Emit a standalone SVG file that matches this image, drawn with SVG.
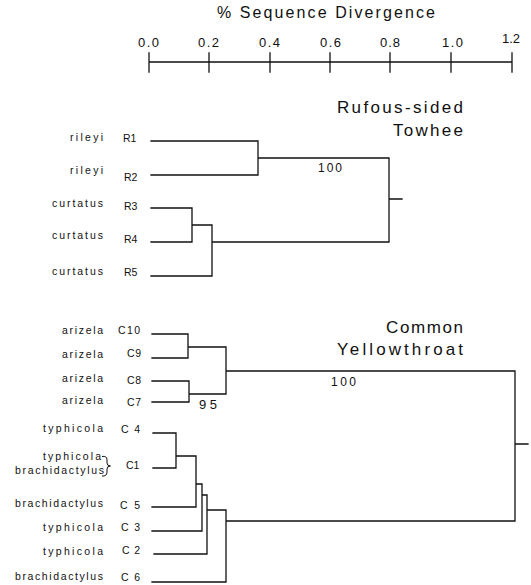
<svg xmlns="http://www.w3.org/2000/svg" width="531" height="585" viewBox="0 0 531 585">
<style>
text{font-family:"Liberation Sans",Arial,sans-serif;fill:#111}
.lab{font-size:10.5px}
.nm{font-size:10.5px;text-anchor:end}
.ttl{font-size:17px}
.num{font-size:13px}
.bs{font-size:12px}
.ln{fill:none;stroke:#111;stroke-width:1.3;stroke-linecap:square}
</style>
<rect width="531" height="585" fill="#fff"/>
<g id="axis">
<text class="ttl" x="217" y="18" textLength="218" lengthAdjust="spacing" style="font-size:16px">% Sequence Divergence</text>
<text class="num" x="138" y="47" textLength="21" lengthAdjust="spacing">0.0</text>
<text class="num" x="198" y="47" textLength="21" lengthAdjust="spacing">0.2</text>
<text class="num" x="259" y="47" textLength="21" lengthAdjust="spacing">0.4</text>
<text class="num" x="320" y="47" textLength="21" lengthAdjust="spacing">0.6</text>
<text class="num" x="380" y="47" textLength="20" lengthAdjust="spacing">0.8</text>
<text class="num" x="442" y="47" textLength="21" lengthAdjust="spacing">1.0</text>
<text class="num" x="502" y="43" textLength="18" lengthAdjust="spacing">1.2</text>
<path class="ln" d="M149,62 H512 M149,53 V72 M209,53 V72 M270,53 V72 M330,53 V72 M390,53 V72 M451,53 V72 M512,53 V72"/>
</g>
<g id="title-towhee">
<text class="ttl" x="337" y="113" textLength="126" lengthAdjust="spacing">Rufous-sided</text>
<text class="ttl" x="393" y="136" textLength="70" lengthAdjust="spacing">Towhee</text>
</g>
<g id="title-yellowthroat">
<text class="ttl" x="386" y="333" textLength="77" lengthAdjust="spacing">Common</text>
<text class="ttl" x="337" y="355" textLength="126" lengthAdjust="spacing">Yellowthroat</text>
</g>
<g id="R1"><text class="nm" x="103" y="141" textLength="33" lengthAdjust="spacing">rileyi</text><text class="lab" x="123" y="142">R1</text></g>
<g id="R2"><text class="nm" x="103" y="174" textLength="33" lengthAdjust="spacing">rileyi</text><text class="lab" x="124" y="181">R2</text></g>
<g id="R3"><text class="nm" x="103" y="207" textLength="51" lengthAdjust="spacing">curtatus</text><text class="lab" x="124" y="210">R3</text></g>
<g id="R4"><text class="nm" x="103" y="239" textLength="51" lengthAdjust="spacing">curtatus</text><text class="lab" x="124" y="243">R4</text></g>
<g id="R5"><text class="nm" x="103" y="275" textLength="51" lengthAdjust="spacing">curtatus</text><text class="lab" x="124" y="276">R5</text></g>
<g id="C10"><text class="nm" x="103" y="334" textLength="41" lengthAdjust="spacing">arizela</text><text class="lab" x="118" y="334" textLength="22" lengthAdjust="spacing">C10</text></g>
<g id="C9"><text class="nm" x="103" y="358" textLength="41" lengthAdjust="spacing">arizela</text><text class="lab" x="127" y="357" textLength="14" lengthAdjust="spacing">C9</text></g>
<g id="C8"><text class="nm" x="103" y="382" textLength="41" lengthAdjust="spacing">arizela</text><text class="lab" x="127" y="384" textLength="14" lengthAdjust="spacing">C8</text></g>
<g id="C7"><text class="nm" x="103" y="404" textLength="41" lengthAdjust="spacing">arizela</text><text class="lab" x="127" y="406" textLength="14" lengthAdjust="spacing">C7</text></g>
<g id="C4"><text class="nm" x="103" y="432" textLength="60" lengthAdjust="spacing">typhicola</text><text class="lab" x="121" y="433" textLength="19" lengthAdjust="spacing">C4</text></g>
<g id="C1"><text class="nm" x="101" y="460" textLength="58" lengthAdjust="spacing">typhicola</text><text class="nm" x="104" y="474" textLength="89" lengthAdjust="spacing">brachidactylus</text>
<path class="ln" style="stroke-width:1;stroke-linecap:butt" d="M102,456.5 Q107,455.5 107,460 V463 Q107,466 110.5,466 Q107,466 107,469 V472 Q107,476.5 102,476"/>
<text class="lab" x="126" y="469">C1</text></g>
<g id="C5"><text class="nm" x="103" y="507" textLength="88" lengthAdjust="spacing">brachidactylus</text><text class="lab" x="120" y="509" textLength="20" lengthAdjust="spacing">C5</text></g>
<g id="C3"><text class="nm" x="103" y="531" textLength="60" lengthAdjust="spacing">typhicola</text><text class="lab" x="121" y="531" textLength="19" lengthAdjust="spacing">C3</text></g>
<g id="C2"><text class="nm" x="103" y="555" textLength="60" lengthAdjust="spacing">typhicola</text><text class="lab" x="122" y="554" textLength="18" lengthAdjust="spacing">C2</text></g>
<g id="C6"><text class="nm" x="103" y="580" textLength="88" lengthAdjust="spacing">brachidactylus</text><text class="lab" x="121" y="581" textLength="19" lengthAdjust="spacing">C6</text></g>
<g id="connectors">
<path class="ln" d="M151,141 H258 M151,175 H258 M258,141 V175 M258,158 H389 M151,208 H192 M151,242 H192 M192,208 V242 M192,225 H212 M151,276 H212 M212,225 V276 M212,242 H389 M389,158 V242 M389,199 H402"/>
<path class="ln" d="M152,334 H188 M152,358 H188 M188,334 V358 M188,347 H226 M152,381 H189 M152,402 H189 M189,381 V402 M189,394 H226 M226,347 V394 M226,371 H515 M153,433 H176 M153,468 H176 M176,433 V468 M176,456 H196 M152,507 H196 M196,456 V507 M196,484 H202 M152,531 H202 M202,484 V531 M202,495 H207 M154,554 H207 M207,495 V554 M207,510 H226 M152,582 H226 M226,510 V582 M226,521 H515 M515,371 V521 M515,444 H528"/>
</g>
<g id="support">
<text class="bs" x="318" y="172" textLength="24" lengthAdjust="spacing">100</text>
<text class="bs" x="331" y="386" textLength="25" lengthAdjust="spacing">100</text>
<text class="num" x="199" y="409" textLength="18" lengthAdjust="spacing">95</text>
</g>
</svg>
